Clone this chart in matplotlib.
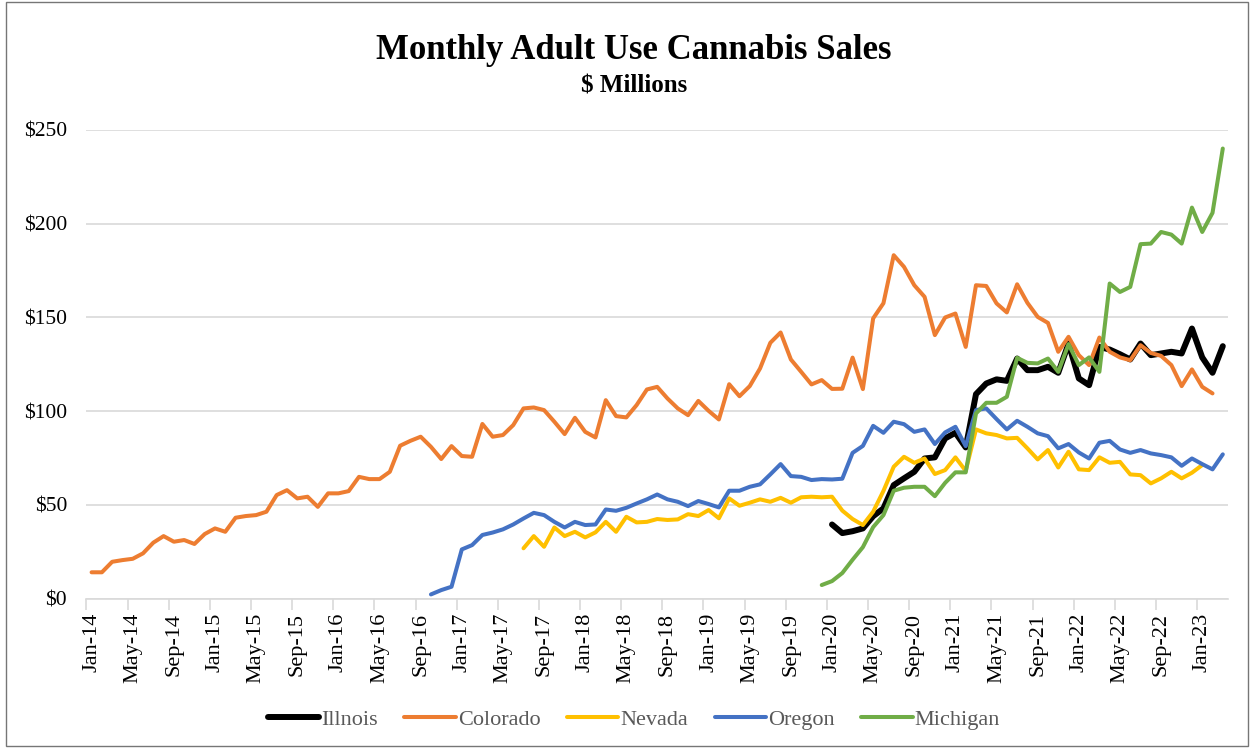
import numpy as np
import pandas as pd
import matplotlib
matplotlib.use("Agg")
import matplotlib.pyplot as plt
from matplotlib.patches import Rectangle

plt.rcParams["font.family"] = ["Liberation Serif", "DejaVu Serif"]

# monthly categories Jan-14 .. Mar-23
months = pd.date_range("2014-01-01", periods=111, freq="MS")
month_labels = list(months.strftime("%b-%y"))

# sales in $ millions
colorado_start = 0
colorado = [
    14.1, 14.1, 19.7, 20.6, 21.3, 24.2, 29.9, 33.4, 30.4, 31.3, 29.2, 34.5,
    37.5, 35.7, 43.2, 44.1, 44.6, 46.4, 55.3, 57.9, 53.5, 54.4, 49.0, 56.2,
    56.2, 57.4, 65.0, 63.8, 63.8, 67.7, 81.6, 84.2, 86.4, 81.0, 74.5, 81.4,
    76.1, 75.7, 93.2, 86.4, 87.3, 92.6, 101.5, 102.0, 100.6, 94.4, 87.8, 96.5,
    89.0, 86.0, 105.9, 97.4, 96.7, 103.3, 111.6, 113.0, 106.8, 101.5, 97.9, 105.5,
    100.2, 95.6, 114.4, 108.0, 113.4, 122.8, 136.5, 142.0, 127.6, 121.0, 114.3, 116.6,
    111.9, 112.0, 128.6, 111.8, 149.5, 157.6, 183.2, 177.0, 167.2, 161.0, 140.6, 150.0,
    152.1, 134.3, 167.2, 166.8, 157.5, 152.7, 167.7, 157.8, 150.3, 147.1, 131.7, 139.7,
    129.9, 124.6, 139.3, 131.7, 128.7, 127.2, 135.2, 131.1, 129.5, 124.6, 113.4, 122.3,
    113.0, 109.5,
]

oregon_start = 33  # Oct-16
oregon = [
    2.3, 4.6, 6.4, 26.3, 28.6, 34.0, 35.3, 37.0, 39.6, 42.8, 45.8, 44.6,
    41.0, 38.0, 41.0, 39.3, 39.6, 47.6, 46.9, 48.5, 50.8, 53.0, 55.6, 53.0,
    51.7, 49.4, 52.1, 50.5, 48.7, 57.6, 57.6, 59.7, 61.0, 66.3, 71.8, 65.4,
    65.0, 63.3, 63.8, 63.6, 64.0, 77.8, 81.5, 92.2, 88.5, 94.4, 93.1, 89.0,
    90.3, 82.5, 88.7, 91.7, 81.4, 100.6, 101.5, 95.8, 90.3, 94.9, 91.7, 88.2,
    86.7, 80.2, 82.5, 78.0, 74.8, 83.2, 84.2, 79.6, 77.8, 79.3, 77.5, 76.6,
    75.4, 70.9, 74.8, 71.8, 69.0, 77.0,
]

nevada_start = 42  # Jul-17
nevada = [
    26.9, 33.4, 27.7, 38.0, 33.4, 35.7, 32.7, 35.4, 41.0, 35.7, 43.7, 40.7,
    41.0, 42.5, 42.0, 42.3, 45.1, 44.1, 47.3, 42.9, 53.5, 49.6, 51.2, 53.0,
    51.7, 53.8, 51.2, 54.1, 54.4, 54.1, 54.4, 47.0, 42.5, 39.3, 46.4, 57.5,
    70.4, 75.7, 72.5, 74.8, 66.5, 68.6, 75.4, 68.2, 90.3, 88.2, 87.3, 85.5,
    85.8, 80.2, 74.3, 79.3, 70.0, 78.4, 69.0, 68.6, 75.4, 72.5, 73.0, 66.3,
    65.9, 61.5, 64.2, 67.7, 64.2, 67.2, 71.3,
]

illinois_start = 72  # Jan-20
illinois = [
    39.6, 35.0, 36.0, 37.5, 44.0, 48.2, 60.6, 64.2, 67.7, 74.8, 75.4, 85.5,
    88.5, 80.7, 109.1, 114.8, 117.0, 116.2, 128.1, 121.9, 121.9, 123.7, 120.5, 136.1,
    117.5, 113.9, 134.3, 132.9, 130.4, 127.6, 136.1, 129.9, 130.8, 131.7, 130.8, 144.1,
    128.7, 120.5, 134.7,
]

michigan_start = 71  # Dec-19
michigan = [
    7.3, 9.4, 13.7, 20.8, 27.5, 38.2, 44.6, 57.6, 59.2, 59.7, 59.7, 54.7,
    61.8, 67.4, 67.4, 98.8, 104.5, 104.5, 107.7, 128.5, 125.8, 125.5, 128.1, 121.0,
    135.8, 124.6, 128.7, 121.0, 168.1, 163.6, 166.3, 189.1, 189.4, 195.6, 194.2, 189.4,
    208.6, 195.6, 205.8, 240.1,
]

series = [
    ("Illnois", illinois_start, illinois, "#000000", 4.3),
    ("Colorado", colorado_start, colorado, "#ED7D31", 2.9),
    ("Nevada", nevada_start, nevada, "#FFC000", 2.9),
    ("Oregon", oregon_start, oregon, "#4472C4", 2.9),
    ("Michigan", michigan_start, michigan, "#70AD47", 2.9),
]

fig = plt.figure(figsize=(12.53, 7.5), dpi=100)
ax = fig.add_axes([0.069, 0.2017, 0.911, 0.625])

for name, start, vals, color, lw in series:
    x = np.arange(start, start + len(vals))
    ax.plot(x, vals, color=color, lw=lw, label=name,
            solid_joinstyle="round", solid_capstyle="round")

ax.set_xlim(-0.5, len(months) - 0.5)
ax.set_ylim(0, 250)

# y axis
ax.set_yticks(np.arange(0, 251, 50))
ax.set_yticklabels([f"${v}" for v in range(0, 251, 50)])
ax.tick_params(axis="y", length=0, pad=14, labelsize=15.5, labelcolor="#000000")
ax.grid(axis="y", color="#D9D9D9", lw=1.2)
ax.set_axisbelow(True)

# x axis: labels centred on months, tick marks at month boundaries
lab_idx = np.arange(0, len(months), 4)
ax.set_xticks(lab_idx)
ax.set_xticklabels([month_labels[i] for i in lab_idx], rotation=90)
ax.tick_params(axis="x", which="major", length=0, pad=10, labelsize=16)
ax.set_xticks(lab_idx - 0.5, minor=True)
ax.tick_params(axis="x", which="minor", length=8, width=1.2, color="#D9D9D9")

for s in ["top", "right", "left"]:
    ax.spines[s].set_visible(False)
ax.spines["bottom"].set_color("#D9D9D9")
ax.spines["bottom"].set_linewidth(1.2)

# titles
fig.text(0.506, 0.933, "Monthly Adult Use Cannabis Sales", ha="center", va="center",
         fontsize=25, fontweight="bold")
fig.text(0.506, 0.885, "$ Millions", ha="center", va="center",
         fontsize=18, fontweight="bold")

leg = fig.legend(loc="center", bbox_to_anchor=(0.506, 0.041), ncol=5, frameon=False,
                 fontsize=16, handlelength=2.3, handletextpad=0.1, columnspacing=1.2)
for t in leg.get_texts():
    t.set_color("#595959")

fig.patches.append(Rectangle((0.005, 0.006), 0.991, 0.991, transform=fig.transFigure,
                             fill=False, edgecolor="#767676", lw=1.0))

fig.savefig("out.png", dpi=100)
